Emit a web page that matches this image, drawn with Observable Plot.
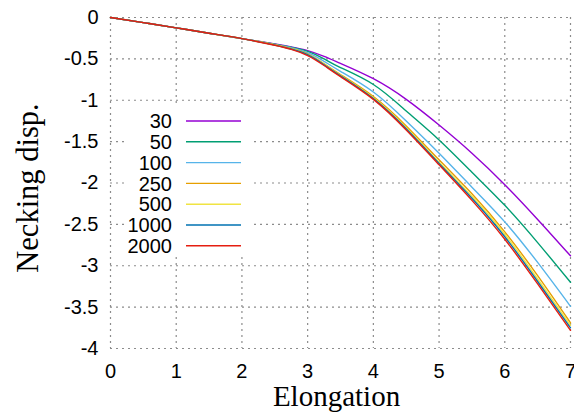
<!DOCTYPE html>
<html>
<head>
<meta charset="utf-8">
<script src="https://cdn.jsdelivr.net/npm/d3@7"></script>
<script src="https://cdn.jsdelivr.net/npm/@observablehq/plot@0.6"></script>
<style>
  html, body { margin: 0; padding: 0; background: #fff; }
  #chart { position: relative; width: 574px; height: 415px; }
</style>
</head>
<body>
<div id="chart"></div>
<script>
// ---- data ----
const elongation = [0, 0.5, 1, 1.5, 2, 2.5, 2.75, 3, 3.25, 3.5, 4, 4.5, 5, 5.5, 6, 6.5, 7];
const seriesNames = ["30", "50", "100", "250", "500", "1000", "2000"];
const seriesColors = ["#9400d3", "#009e73", "#56b4e9", "#e69f00", "#f0e442", "#0072b2", "#e51e10"];
const s30   = [0, -0.062, -0.125, -0.19, -0.255, -0.320, -0.355, -0.400, -0.470, -0.555, -0.74,  -0.99,  -1.30,  -1.64,  -2.02, -2.44, -2.88];
const s50   = [0, -0.062, -0.125, -0.19, -0.255, -0.322, -0.360, -0.410, -0.500, -0.605, -0.81,  -1.13,  -1.48,  -1.87,  -2.27, -2.72, -3.20];
const s100  = [0, -0.062, -0.125, -0.19, -0.255, -0.325, -0.365, -0.425, -0.530, -0.650, -0.90,  -1.25,  -1.64,  -2.05,  -2.47, -2.96, -3.49];
const s250  = [0, -0.062, -0.125, -0.19, -0.255, -0.330, -0.375, -0.440, -0.560, -0.690, -0.955, -1.31,  -1.72,  -2.13,  -2.59, -3.12, -3.69];
const s500  = [0, -0.062, -0.125, -0.19, -0.255, -0.332, -0.378, -0.445, -0.565, -0.700, -0.97,  -1.33,  -1.75,  -2.16,  -2.62, -3.16, -3.72];
const s1000 = [0, -0.062, -0.125, -0.19, -0.255, -0.334, -0.381, -0.450, -0.572, -0.705, -0.98,  -1.345, -1.765, -2.185, -2.65, -3.19, -3.75];
const s2000 = [0, -0.062, -0.125, -0.19, -0.255, -0.336, -0.385, -0.460, -0.580, -0.715, -0.99,  -1.36,  -1.78,  -2.21,  -2.68, -3.22, -3.78];
const seriesValues = [s30, s50, s100, s250, s500, s1000, s2000];
const xTicks = [0, 1, 2, 3, 4, 5, 6, 7];
const yTicks = [0, -0.5, -1, -1.5, -2, -2.5, -3, -3.5, -4];
const xLabel = "Elongation";
const yLabel = "Necking disp.";

// ---- table ----
const rows = [];
seriesNames.forEach((name, i) => {
  elongation.forEach((x, j) => rows.push({series: name, x, y: seriesValues[i][j]}));
});

const sans = "'Liberation Sans', Arial, Helvetica, sans-serif";
const serif = "'Liberation Serif', 'Times New Roman', serif";

const chart = Plot.plot({
  width: 574,
  height: 415,
  marginLeft: 110,
  marginRight: 4,
  marginTop: 17,
  marginBottom: 67,
  style: {fontFamily: sans, fontSize: "20px", background: "#fff", overflow: "visible"},
  x: {domain: [0, 7]},
  y: {domain: [-4, 0]},
  color: {domain: seriesNames, range: seriesColors},
  marks: [
    Plot.gridX(xTicks, {stroke: "#8c8c8c", strokeOpacity: 1, strokeWidth: 1.2, strokeDasharray: "2,4"}),
    Plot.gridY(yTicks, {stroke: "#8c8c8c", strokeOpacity: 1, strokeWidth: 1.2, strokeDasharray: "2,4"}),
    Plot.axisX(xTicks, {tickSize: 0, tickPadding: 15, fontSize: 20, fontFamily: sans, fill: "#000", label: null, tickFormat: d => String(d)}),
    Plot.axisY(yTicks, {tickSize: 0, tickPadding: 12, fontSize: 20, fontFamily: sans, fill: "#000", label: null, tickFormat: d => String(d)}),
    Plot.line(rows, {x: "x", y: "y", z: "series", stroke: "series", strokeWidth: 1.4, curve: "natural"}),
    Plot.text([xLabel], {frameAnchor: "bottom", textAnchor: "middle", dx: -4, dy: 57, lineAnchor: "bottom", fontSize: 29, fontFamily: serif, fill: "#000"}),
    Plot.text([yLabel], {frameAnchor: "left", textAnchor: "middle", dx: -73, dy: 5, rotate: -90, lineAnchor: "bottom", fontSize: 30.5, fontFamily: serif, fill: "#000"})
  ]
});

document.getElementById("chart").appendChild(chart);

// ---- legend inside plot area ----
const svg = d3.select(chart);
const lg = svg.append("g");
lg.append("rect").attr("x", 126).attr("y", 105).attr("width", 124).attr("height", 150).attr("fill", "#fff");
seriesNames.forEach((name, i) => {
  const cy = 121 + i * 20.8;
  lg.append("text").attr("x", 172).attr("y", cy).attr("dy", "0.36em")
    .attr("text-anchor", "end").attr("font-family", sans).attr("font-size", 20).attr("fill", "#000").text(name);
  lg.append("line").attr("x1", 186).attr("x2", 241).attr("y1", cy).attr("y2", cy)
    .attr("stroke", seriesColors[i]).attr("stroke-width", 1.4);
});
</script>
</body>
</html>
